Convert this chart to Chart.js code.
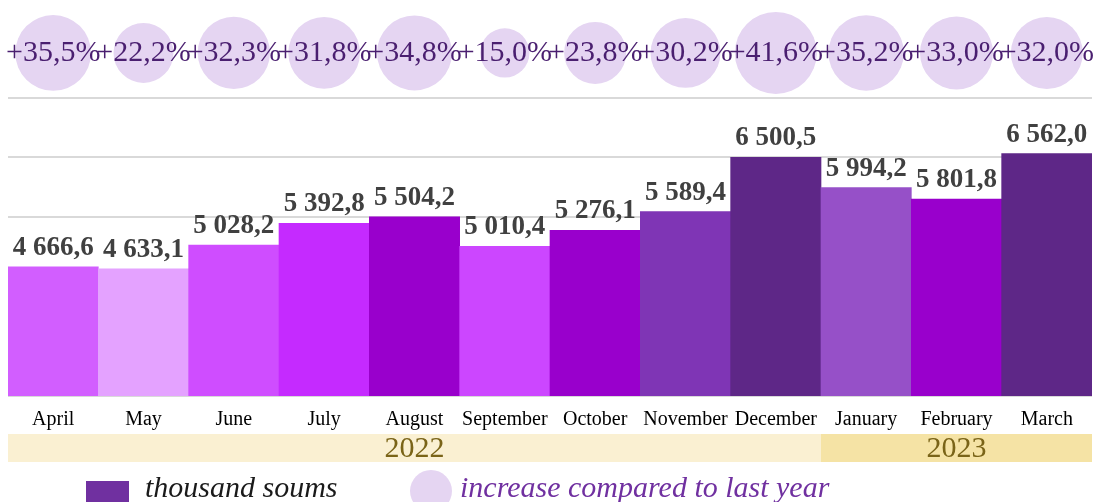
<!DOCTYPE html>
<html>
<head>
<meta charset="utf-8">
<script src="https://cdn.jsdelivr.net/npm/chart.js@4/dist/chart.umd.min.js"></script>
<style>
    html, body { margin: 0; padding: 0; background: #fff; }
    #chart { display: block; }
</style>
</head>
<body>
<canvas id="chart" width="1099" height="502"></canvas>
<script>
const months = ['April', 'May', 'June', 'July', 'August', 'September', 'October', 'November', 'December', 'January', 'February', 'March'];
const incomeValues = [4666.6, 4633.1, 5028.2, 5392.8, 5504.2, 5010.4, 5276.1, 5589.4, 6500.5, 5994.2, 5801.8, 6562.0];
const growthValues = [35.5, 22.2, 32.3, 31.8, 34.8, 15.0, 23.8, 30.2, 41.6, 35.2, 33.0, 32.0];
const barColors = ['#D25EFF', '#E4A2FF', '#CF4DFF', '#C52AFF', '#9900CC', '#CC46FF', '#9900CC', '#7F35B5', '#5E2787', '#9650C8', '#9900CC', '#5E2787'];
const years = ['2022', '2023'];
const yearMonths = [9, 3];
const yearColors = ['#FAF0D2', '#F5E3A5'];

const BUBBLE_ROW = 8250;

const fmt = (v, digits) => {
    const parts = v.toFixed(digits).split('.');
    parts[0] = parts[0].replace(/\B(?=(\d{3})+(?!\d))/g, ' ');
    return parts.join(',');
};

const extrasPlugin = {
    id: 'extras',
    afterDatasetsDraw(chart) {
        const ctx = chart.ctx;
        const bars = chart.getDatasetMeta(0).data;
        const bubbles = chart.getDatasetMeta(1).data;
        ctx.save();
        ctx.textAlign = 'center';

        // bar value labels
        ctx.fillStyle = '#404040';
        ctx.font = 'bold 27px "Liberation Serif"';
        ctx.textBaseline = 'alphabetic';
        bars.forEach((bar, i) => {
            ctx.fillText(fmt(incomeValues[i], 1), bar.x, bar.y - 12);
        });

        // bubble labels
        ctx.fillStyle = '#4A1F70';
        ctx.font = '30px "Liberation Serif"';
        ctx.textBaseline = 'middle';
        bubbles.forEach((pt, i) => {
            ctx.fillText('+' + fmt(growthValues[i], 1) + '%', pt.x, pt.y);
        });
        ctx.restore();
    },
    afterDraw(chart) {
        const ctx = chart.ctx;
        const x = chart.scales.x;
        const step = x.getPixelForValue(1) - x.getPixelForValue(0);
        ctx.save();

        // year band
        let start = 0;
        years.forEach((year, i) => {
            const left = x.getPixelForValue(start) - step / 2;
            const right = x.getPixelForValue(start + yearMonths[i] - 1) + step / 2;
            ctx.fillStyle = yearColors[i];
            ctx.fillRect(left, 434, right - left, 28);
            ctx.fillStyle = '#7A6418';
            ctx.font = '30px "Liberation Serif"';
            ctx.textAlign = 'center';
            ctx.textBaseline = 'middle';
            ctx.fillText(year, (left + right) / 2, 449);
            start += yearMonths[i];
        });

        // legend
        ctx.fillStyle = '#7030A0';
        ctx.fillRect(86, 481, 43, 24);
        ctx.fillStyle = '#1A1A1A';
        ctx.font = 'italic 30px "Liberation Serif"';
        ctx.textAlign = 'left';
        ctx.textBaseline = 'alphabetic';
        ctx.fillText('thousand soums', 145, 497);

        ctx.fillStyle = '#E5D5F2';
        ctx.beginPath();
        ctx.arc(431, 491, 21, 0, Math.PI * 2);
        ctx.fill();
        ctx.fillStyle = '#7030A0';
        ctx.fillText('increase compared to last year', 460, 497);
        ctx.restore();
    }
};

new Chart(document.getElementById('chart'), {
    type: 'bar',
    data: {
        labels: months,
        datasets: [{
            label: 'thousand soums',
            data: incomeValues,
            backgroundColor: barColors,
            categoryPercentage: 1,
            barPercentage: 1,
            order: 2
        }, {
            type: 'bubble',
            label: 'increase compared to last year',
            data: growthValues.map((v, i) => ({x: months[i], y: BUBBLE_ROW, r: 6.36 * Math.sqrt(v)})),
            backgroundColor: '#E5D5F2',
            borderWidth: 0,
            hoverRadius: 0,
            clip: false,
            order: 1
        }]
    },
    options: {
        responsive: false,
        animation: false,
        layout: {
            autoPadding: false,
            padding: {left: 8, right: 7, top: 38, bottom: 58}
        },
        plugins: {
            legend: {display: false},
            tooltip: {enabled: false}
        },
        scales: {
            x: {
                offset: true,
                grid: {display: false, drawTicks: false},
                border: {display: false},
                ticks: {
                    color: '#000',
                    padding: 12,
                    maxRotation: 0,
                    autoSkip: false,
                    font: {family: 'Liberation Serif', size: 20}
                }
            },
            y: {
                display: true,
                min: 2500,
                max: 8500,
                ticks: {display: false, stepSize: 1000},
                border: {display: false},
                grid: {
                    drawTicks: false,
                    lineWidth: 2,
                    color: c => c.tick.value > 7500 ? 'rgba(0,0,0,0)' : '#D9D9D9'
                }
            }
        }
    },
    plugins: [extrasPlugin]
});
</script>
</body>
</html>
